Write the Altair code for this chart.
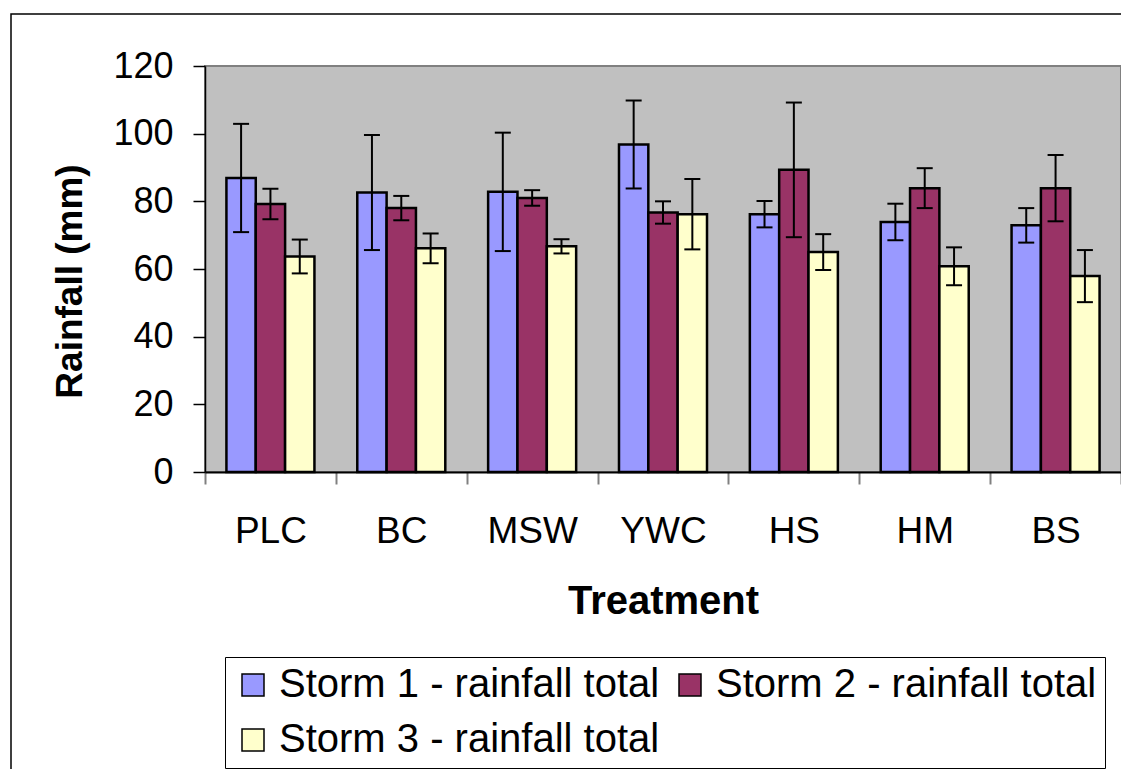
import altair as alt
import pandas as pd

treatments = ["PLC", "BC", "MSW", "YWC", "HS", "HM", "BS"]
storms = ["Storm 1 - rainfall total", "Storm 2 - rainfall total", "Storm 3 - rainfall total"]

storm1_mean = [86.9, 82.6, 82.8, 96.8, 76.2, 73.9, 72.9]
storm1_err = [16.0, 17.0, 17.5, 13.0, 3.9, 5.4, 5.1]
storm2_mean = [79.2, 78.0, 81.0, 76.7, 89.3, 83.9, 83.9]
storm2_err = [4.5, 3.6, 2.3, 3.3, 19.9, 5.9, 9.8]
storm3_mean = [63.7, 66.1, 66.7, 76.2, 65.0, 60.8, 57.9]
storm3_err = [5.0, 4.4, 2.1, 10.4, 5.3, 5.6, 7.7]

colors = ["#9999FF", "#993366", "#FFFFCC"]

rows = []
for s, means, errs in zip(storms, [storm1_mean, storm2_mean, storm3_mean],
                          [storm1_err, storm2_err, storm3_err]):
    for t, m, e in zip(treatments, means, errs):
        rows.append({"Treatment": t, "Storm": s, "Rainfall": m,
                     "lo": m - e, "hi": m + e})
df = pd.DataFrame(rows)

FONT = "Liberation Sans"

x_scale = alt.Scale(paddingInner=0, paddingOuter=0)
x_enc = alt.X("Treatment:N", sort=treatments, scale=x_scale,
              axis=alt.Axis(title="Treatment", labelAngle=0, labelFont=FONT,
                            labelFontSize=37, labelColor="black",
                            labelBaseline="alphabetic", labelPadding=58,
                            tickBand="extent", tickSize=12, tickColor="#808080",
                            tickWidth=2, domainColor="black", domainWidth=2,
                            titleFont=FONT, titleFontSize=40, titleFontWeight="bold",
                            titleColor="black", titleX=458, titleY=141,
                            titleBaseline="alphabetic", titleAlign="center"))
xo_enc = alt.XOffset("Storm:N", sort=storms,
                     scale=alt.Scale(paddingInner=0, paddingOuter=0.73))
color_enc = alt.Color("Storm:N", sort=storms,
                      scale=alt.Scale(domain=storms, range=colors),
                      legend=alt.Legend(title=None, orient="none", legendX=20, legendY=591,
                                        direction="horizontal", columns=2,
                                        symbolType="square", symbolSize=484,
                                        symbolStrokeColor="black", symbolStrokeWidth=1.5,
                                        symbolOpacity=1,
                                        labelFont=FONT, labelFontSize=40, labelColor="black",
                                        labelLimit=1000, labelOffset=6,
                                        columnPadding=10, rowPadding=15, padding=8,
                                        strokeColor="black", fillColor="white"))

y_scale = alt.Scale(domain=[0, 120], nice=False)
y_axis = alt.Axis(title="Rainfall (mm)", values=[0, 20, 40, 60, 80, 100, 120],
                  grid=False, labelFont=FONT, labelFontSize=36, labelColor="black",
                  labelPadding=20, tickSize=12, tickColor="black", tickWidth=1.5,
                  domainColor="black", domainWidth=1.5,
                  titleFont=FONT, titleFontSize=37, titleFontWeight="bold",
                  titleColor="black", titleX=-124, titleY=215,
                  titleAngle=-90, titleBaseline="alphabetic", titleAlign="center")

base = alt.Chart(df)

bars = base.mark_bar(stroke="black", strokeWidth=2.5).encode(
    x=x_enc, xOffset=xo_enc,
    y=alt.Y("Rainfall:Q", scale=y_scale, axis=y_axis),
    color=color_enc,
)

rules = base.mark_rule(color="black", strokeWidth=2).encode(
    x=alt.X("Treatment:N", sort=treatments), xOffset=xo_enc,
    y=alt.Y("lo:Q"), y2="hi:Q",
)

caps_lo = base.mark_tick(color="black", thickness=2, size=16, opacity=1).encode(
    x=alt.X("Treatment:N", sort=treatments), xOffset=xo_enc,
    y=alt.Y("lo:Q"),
)
caps_hi = base.mark_tick(color="black", thickness=2, size=16, opacity=1).encode(
    x=alt.X("Treatment:N", sort=treatments), xOffset=xo_enc,
    y=alt.Y("hi:Q"),
)

frame = alt.Chart(alt.Data(values=[{"a": 1}])).mark_rect(
    fill=None, stroke="black", strokeWidth=1.5, clip=False
).encode(
    x=alt.value(-194), x2=alt.value(3000),
    y=alt.value(-52), y2=alt.value(3000),
)

chart = alt.layer(frame, bars, rules, caps_lo, caps_hi).properties(
    width=916, height=406,
    autosize=alt.AutoSizeParams(type="none"),
    padding={"left": 197, "top": 58, "right": 0, "bottom": 297},
    background="white",
).configure_view(
    fill="#C0C0C0", stroke="#808080", strokeWidth=2
)

chart.save("out.html", embed_options={"renderer": "svg", "actions": False})
